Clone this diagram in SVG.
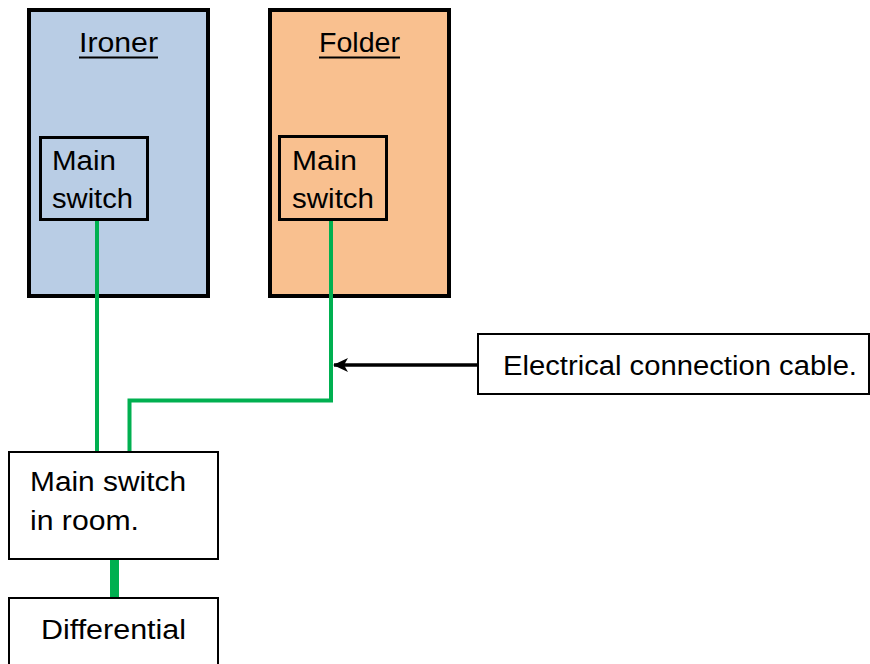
<svg xmlns="http://www.w3.org/2000/svg" width="870" height="664" viewBox="0 0 870 664">
<defs>
<style>
text{font-family:"Liberation Sans","Open Sans",Arial,sans-serif;font-size:27px;fill:#000}
.cable{fill:none;stroke:#00B050;stroke-width:4}
.box{fill:#fff;stroke:#000;stroke-width:2}
</style>
<marker id="ah" viewBox="0 0 15 14" refX="14" refY="7" markerWidth="15" markerHeight="14" markerUnits="userSpaceOnUse" orient="auto">
<path d="M0,0 L15,7 L0,14 L4,7 Z" fill="#000"/>
</marker>
</defs>
<rect width="870" height="664" fill="#fff"/>
<g id="ironer">
<rect x="29" y="10" width="179" height="286" fill="#B9CDE5" stroke="#000" stroke-width="4"/>
<text x="79" y="52" textLength="79" lengthAdjust="spacingAndGlyphs">Ironer</text>
<line x1="79" y1="57.5" x2="158" y2="57.5" stroke="#000" stroke-width="2"/>
</g>
<g id="ironer-switch">
<rect x="40.5" y="137.5" width="107" height="82" fill="#B9CDE5" stroke="#000" stroke-width="3"/>
<text x="52" y="170" textLength="64" lengthAdjust="spacingAndGlyphs">Main</text>
<text x="52" y="208" textLength="81" lengthAdjust="spacingAndGlyphs">switch</text>
</g>
<g id="folder">
<rect x="270" y="10" width="179" height="286" fill="#F9C08F" stroke="#000" stroke-width="4"/>
<text x="319" y="52" textLength="81" lengthAdjust="spacingAndGlyphs">Folder</text>
<line x1="319" y1="57.5" x2="400" y2="57.5" stroke="#000" stroke-width="2"/>
</g>
<g id="folder-switch">
<rect x="279.5" y="136.5" width="107" height="83" fill="#F9C08F" stroke="#000" stroke-width="3"/>
<text x="292" y="170" textLength="65" lengthAdjust="spacingAndGlyphs">Main</text>
<text x="292" y="208" textLength="82" lengthAdjust="spacingAndGlyphs">switch</text>
</g>
<g id="connectors">
<line class="cable" x1="97" y1="221" x2="97" y2="452"/>
<polyline class="cable" points="331,221 331,400.5 129.5,400.5 129.5,452"/>
<line x1="114.5" y1="559" x2="114.5" y2="598" stroke="#00B050" stroke-width="9"/>
<line x1="477" y1="365" x2="334" y2="365" stroke="#000" stroke-width="3.5" marker-end="url(#ah)"/>
</g>
<g id="room-switch">
<rect class="box" x="9" y="452" width="209" height="107"/>
<text x="30" y="491" textLength="156" lengthAdjust="spacingAndGlyphs">Main switch</text>
<text x="30" y="530" textLength="109" lengthAdjust="spacingAndGlyphs">in room.</text>
</g>
<g id="differential">
<rect class="box" x="9" y="598" width="209" height="80"/>
<text x="41" y="639" textLength="145" lengthAdjust="spacingAndGlyphs">Differential</text>
</g>
<g id="cable-label">
<rect class="box" x="478" y="334" width="391" height="60"/>
<text x="503" y="375" textLength="354" lengthAdjust="spacingAndGlyphs">Electrical connection cable.</text>
</g>
</svg>
